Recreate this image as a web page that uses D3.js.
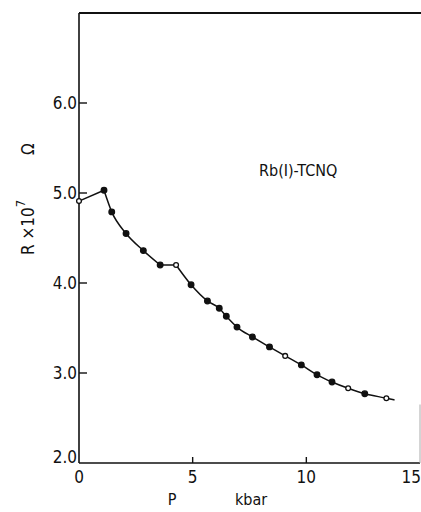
<!DOCTYPE html>
<html>
<head>
<meta charset="utf-8">
<script src="https://cdn.jsdelivr.net/npm/d3@7"></script>
<style>
  body { margin: 0; background: #fff; }
  text { font-family: "DejaVu Sans Condensed", "DejaVu Sans", sans-serif; fill: #111; }
</style>
</head>
<body>
<script>
// pressure (kbar) and resistance (x10^7 ohm)
var pressure   = [0, 1.1, 1.44, 2.07, 2.83, 3.57, 4.27, 4.93, 5.65, 6.17, 6.48, 6.95, 7.63, 8.38, 9.07, 9.78, 10.47, 11.13, 11.84, 12.57, 13.52];
var resistance = [4.91, 5.03, 4.79, 4.55, 4.36, 4.2, 4.2, 3.98, 3.80, 3.72, 3.63, 3.51, 3.40, 3.29, 3.19, 3.09, 2.98, 2.90, 2.83, 2.77, 2.72];
var openPoint  = [1, 0, 0, 0, 0, 0, 1, 0, 0, 0, 0, 0, 0, 0, 1, 0, 0, 0, 1, 0, 1];
// the drawn curve runs a little past the last point
var tailP = 13.88, tailR = 2.70;

var xTicks = [0, 5, 10, 15];
var yTicks = [2.0, 3.0, 4.0, 5.0, 6.0];

var w = 421, h = 512;

var svg = d3.select("body").append("svg")
    .attr("width", w)
    .attr("height", h);

var x = d3.scaleLinear().domain([0, 15]).range([79, 420]);
var y = d3.scaleLinear().domain([2, 7]).range([463, 13]);

var pts = pressure.map(function(p, i) { return [p, resistance[i], openPoint[i]]; });

// frame: left, top, bottom and a stub of the right side
svg.append("line").attr("x1", x(0)).attr("x2", x(0)).attr("y1", y(7)).attr("y2", y(2))
   .attr("stroke", "#111").attr("stroke-width", 1.6);
svg.append("line").attr("x1", x(0)).attr("x2", w).attr("y1", y(7)).attr("y2", y(7))
   .attr("stroke", "#111").attr("stroke-width", 1.8);
svg.append("line").attr("x1", x(0)).attr("x2", x(15)).attr("y1", y(2)).attr("y2", y(2))
   .attr("stroke", "#111").attr("stroke-width", 1.6);
svg.append("line").attr("x1", x(15)).attr("x2", x(15)).attr("y1", y(2.65)).attr("y2", y(2))
   .attr("stroke", "#aaa").attr("stroke-width", 1);

// y ticks point inward
svg.selectAll(".ytick").data(yTicks.slice(1)).enter().append("line")
   .attr("x1", x(0)).attr("x2", x(0) + 8)
   .attr("y1", function(d) { return y(d); }).attr("y2", function(d) { return y(d); })
   .attr("stroke", "#111").attr("stroke-width", 1.4);

svg.selectAll(".ylab").data(yTicks).enter().append("text")
   .attr("x", x(0) - 2)
   .attr("y", function(d) { return y(d) + (d === 2 ? 0 : 6); })
   .attr("text-anchor", "end")
   .attr("font-size", "17px")
   .text(function(d) { return d.toFixed(1); });

// x ticks point upward
svg.selectAll(".xtick").data([5, 10]).enter().append("line")
   .attr("x1", function(d) { return x(d); }).attr("x2", function(d) { return x(d); })
   .attr("y1", y(2)).attr("y2", y(2) - 6)
   .attr("stroke", "#111").attr("stroke-width", 1.4);

svg.selectAll(".xlab").data(xTicks).enter().append("text")
   .attr("x", function(d) { return d === 15 ? w : x(d); })
   .attr("y", y(2) + 20)
   .attr("text-anchor", function(d) { return d === 15 ? "end" : "middle"; })
   .attr("font-size", "17px")
   .text(function(d) { return d; });

// curve: straight rise, smooth fall, a flat step, smooth fall again
var smooth = d3.line()
    .x(function(d) { return x(d[0]); })
    .y(function(d) { return y(d[1]); })
    .curve(d3.curveMonotoneX);
var straight = d3.line()
    .x(function(d) { return x(d[0]); })
    .y(function(d) { return y(d[1]); });

var pieces = [
  [straight, pts.slice(0, 2)],
  [smooth, pts.slice(1, 6)],
  [straight, pts.slice(5, 7)],
  [smooth, pts.slice(6).concat([[tailP, tailR, 0]])]
];
pieces.forEach(function(p) {
  svg.append("path").attr("d", p[0](p[1]))
     .attr("fill", "none").attr("stroke", "#111").attr("stroke-width", 1.5);
});

svg.selectAll(".pt").data(pts).enter().append("circle")
   .attr("cx", function(d) { return x(d[0]); })
   .attr("cy", function(d) { return y(d[1]); })
   .attr("r", function(d) { return d[2] ? 2.4 : 2.8; })
   .attr("fill", function(d) { return d[2] ? "#fff" : "#111"; })
   .attr("stroke", "#111").attr("stroke-width", 1.3);

// labels
svg.append("text").attr("transform", "translate(" + 34 + "," + 255 + ") rotate(-90)")
   .attr("font-size", "17px").text("R ×10")
   .append("tspan").attr("dy", -9).attr("font-size", "13px").text("7");
svg.append("text").attr("transform", "translate(" + 34 + "," + 155 + ") rotate(-90)")
   .attr("font-size", "17px").text("Ω");

svg.append("text").attr("x", 259).attr("y", 176).attr("font-size", "16px").text("Rb(I)-TCNQ");

svg.append("text").attr("x", 172).attr("y", 505).attr("text-anchor", "middle")
   .attr("font-size", "16px").text("P");
svg.append("text").attr("x", 235).attr("y", 505).attr("font-size", "16px").text("kbar");
</script>
</body>
</html>
